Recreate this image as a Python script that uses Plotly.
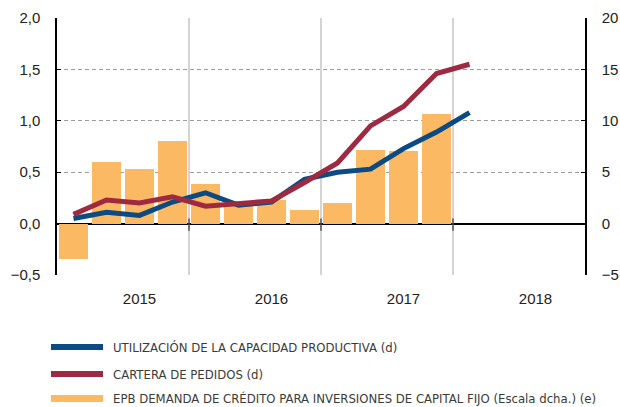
import plotly.graph_objects as go

# Quarterly series, 2015 Q1 onwards
quarters = ["2015T1", "2015T2", "2015T3", "2015T4",
            "2016T1", "2016T2", "2016T3", "2016T4",
            "2017T1", "2017T2", "2017T3", "2017T4",
            "2018T1"]
capacidad = [0.05, 0.11, 0.08, 0.21, 0.30, 0.18, 0.21, 0.43,
             0.50, 0.53, 0.73, 0.89, 1.08]
pedidos = [0.09, 0.23, 0.20, 0.26, 0.17, 0.20, 0.22, 0.40,
           0.59, 0.95, 1.14, 1.46, 1.55]
epb_credito = [-3.4, 6.0, 5.35, 8.0, 3.9, 2.0, 2.25, 1.3,
               2.0, 7.2, 7.1, 10.7]

years = ["2015", "2016", "2017", "2018"]
year_boundaries = [3.5, 7.5, 11.5]

legend_labels = [
    "UTILIZACIÓN DE LA CAPACIDAD PRODUCTIVA (d)",
    "CARTERA DE PEDIDOS (d)",
    "EPB DEMANDA DE CRÉDITO PARA INVERSIONES DE CAPITAL FIJO (Escala dcha.) (e)",
]

BLUE = "#0c4a84"
RED = "#9d2a40"
ORANGE = "#fcb964"

xq = list(range(len(quarters)))

fig = go.Figure()
fig.add_trace(go.Bar(x=xq[:len(epb_credito)], y=epb_credito, yaxis="y",
                     marker=dict(color=ORANGE, line=dict(width=0)),
                     width=0.87, name=legend_labels[2], showlegend=False))
fig.add_trace(go.Scatter(x=xq, y=capacidad, yaxis="y2", mode="lines",
                         line=dict(color=BLUE, width=5),
                         name=legend_labels[0], showlegend=False))
fig.add_trace(go.Scatter(x=xq, y=pedidos, yaxis="y2", mode="lines",
                         line=dict(color=RED, width=5),
                         name=legend_labels[1], showlegend=False))

W, H = 620, 407
ML, MR, MT, MB = 57, 35, 18, 132
PW, PH = W - ML - MR, H - MT - MB


def px_x(px):
    return (px - ML) / PW


def px_y(py):
    return (H - MB - py) / PH


shapes = []
# year separators
for b in year_boundaries:
    shapes.append(dict(type="line", xref="x", yref="paper", x0=b, x1=b,
                       y0=0, y1=1, line=dict(color="#c6c6c6", width=1.5),
                       layer="below"))
    shapes.append(dict(type="line", xref="x", yref="y", x0=b, x1=b,
                       y0=-0.7, y1=0.5, line=dict(color="#555555", width=1.5),
                       layer="above"))

# legend
legend_colors = [BLUE, RED, ORANGE]
legend_widths = [6, 6, 7]
legend_rows = [347, 374, 398.5]
annotations = []
for lbl, col, lw, ry in zip(legend_labels, legend_colors, legend_widths, legend_rows):
    shapes.append(dict(type="line", xref="paper", yref="paper",
                       x0=px_x(51), x1=px_x(103), y0=px_y(ry), y1=px_y(ry),
                       line=dict(color=col, width=lw)))
    annotations.append(dict(xref="paper", yref="paper", x=px_x(111), y=px_y(ry),
                            text=lbl, showarrow=False, xanchor="left",
                            yanchor="middle",
                            font=dict(family="DejaVu Sans Condensed, DejaVu Sans",
                                      size=13, color="#3a3a3a")))

fig.update_layout(
    width=W, height=H,
    margin=dict(l=ML, r=MR, t=MT, b=MB, pad=0, autoexpand=False),
    paper_bgcolor="white", plot_bgcolor="white",
    separators=",.",
    font=dict(family="Liberation Sans, Arial, sans-serif", size=15, color="#222222"),
    bargap=0,
    shapes=shapes,
    annotations=annotations,
    xaxis=dict(range=[-0.5, 15.5], tickvals=[2, 6, 10, 14], ticktext=years,
               showgrid=False, zeroline=False, showline=False, ticks="",
               ticklabelstandoff=13, automargin=False),
    yaxis=dict(side="right", range=[-5, 20], tickvals=[-5, 0, 5, 10, 15, 20],
               showgrid=True, gridcolor="#9c9c9c", griddash="4px,3px", gridwidth=1,
               zeroline=True, zerolinecolor="#000000", zerolinewidth=1.5,
               showline=True, linecolor="#000000", linewidth=1.5,
               ticks="inside", ticklen=4, tickcolor="#000000",
               ticklabelstandoff=12, automargin=False),
    yaxis2=dict(side="left", overlaying="y", range=[-0.5, 2.0],
                tickvals=[-0.5, 0, 0.5, 1.0, 1.5, 2.0], tickformat=".1f",
                showgrid=False, zeroline=False,
                showline=True, linecolor="#000000", linewidth=1.5,
                ticks="inside", ticklen=4, tickcolor="#000000",
                ticklabelstandoff=12, automargin=False),
)

fig.write_html("out.html")
